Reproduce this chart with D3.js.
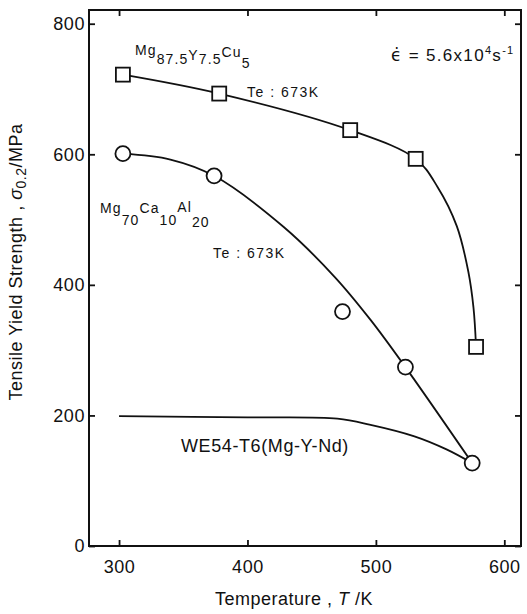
<!DOCTYPE html>
<html lang="en">
<head>
	<meta charset="UTF-8">
	<title>Tensile Yield Strength vs Temperature</title>
	<style>
		html, body {width: 100%; height: 100%; padding: 0; margin: 0; background: #fff;}
		svg {display: block;}
		text {font-family: "Liberation Sans", Arial, sans-serif; fill: #111;}
		.tick-label {font-size: 18px; letter-spacing: 0.6px;}
		.axis-title {font-size: 18px; letter-spacing: 0.5px;}
		.note {font-size: 14px; letter-spacing: 1.5px;}
		.formula {font-size: 14px; letter-spacing: 1.1px;}
		.curve {fill: none; stroke: #111; stroke-width: 1.8px;}
		.marker {fill: #fff; stroke: #111; stroke-width: 1.8px;}
	</style>
	<script src="https://d3js.org/d3.v7.min.js"></script>
</head>
<body>

<script>
// Measured points
var squareT = [303, 378, 480, 531, 578];
var squareS = [722, 693, 637, 593, 305];
var circleT = [303, 374, 474, 523, 575];
var circleS = [601, 567, 359, 274, 127];

// Hand drawn curves
var squareFitT = [303, 378, 480, 531, 548, 563, 572, 576, 578];
var squareFitS = [722, 693, 637, 593, 550, 490, 420, 365, 305];
var circleFitT = [303, 340, 374, 428, 468, 496, 523, 575];
var circleFitS = [601, 592, 567, 489, 412, 346, 274, 127];
var we54T = [300, 400, 470, 495, 530, 555, 575];
var we54S = [199, 197, 195, 186, 168, 148, 127];

var xTicks = [300, 400, 500, 600];
var yTicks = [0, 200, 400, 600, 800];
</script>

<script>
	var width = 527;
	var height = 614;
	var frame = {left: 89, top: 10, right: 521, bottom: 546};

	var x = d3.scaleLinear().domain([276.6, 613]).range([frame.left, frame.right]);
	var y = d3.scaleLinear().domain([0, 821]).range([frame.bottom, frame.top]);

	var svg = d3.select('body').append('svg')
		.attr('width', width)
		.attr('height', height);

	// frame
	svg.append('rect')
		.attr('x', frame.left).attr('y', frame.top)
		.attr('width', frame.right - frame.left)
		.attr('height', frame.bottom - frame.top)
		.attr('fill', 'none').attr('stroke', '#111').attr('stroke-width', 2);

	// inward ticks on all four sides
	var tickStyle = function (sel) {
		sel.call(function (g) { g.select('.domain').remove(); });
		sel.selectAll('.tick line').attr('stroke', '#111').attr('stroke-width', 1.8);
		sel.selectAll('.tick text').attr('class', 'tick-label').attr('fill', '#111');
		sel.attr('font-family', null).attr('font-size', null);
	};
	svg.append('g')
		.attr('transform', 'translate(0,' + frame.bottom + ')')
		.call(d3.axisBottom(x).tickValues(xTicks).tickSize(-6).tickPadding(14))
		.call(tickStyle);
	svg.append('g')
		.attr('transform', 'translate(0,' + frame.top + ')')
		.call(d3.axisTop(x).tickValues(xTicks).tickSize(-6).tickFormat(''))
		.call(tickStyle);
	svg.append('g')
		.attr('transform', 'translate(' + frame.left + ',0)')
		.call(d3.axisLeft(y).tickValues(yTicks).tickSize(-6).tickPadding(4))
		.call(tickStyle);
	svg.append('g')
		.attr('transform', 'translate(' + frame.right + ',0)')
		.call(d3.axisRight(y).tickValues(yTicks).tickSize(-6).tickFormat(''))
		.call(tickStyle);

	// curves
	var line = d3.line()
		.x(function (d) { return x(d[0]); })
		.y(function (d) { return y(d[1]); })
		.curve(d3.curveCatmullRom.alpha(0.5));
	var zip = function (a, b) { return a.map(function (v, i) { return [v, b[i]]; }); };

	svg.append('path').attr('class', 'curve').attr('d', line(zip(squareFitT, squareFitS)));
	svg.append('path').attr('class', 'curve').attr('d', line(zip(circleFitT, circleFitS)));
	svg.append('path').attr('class', 'curve').attr('d', line(zip(we54T, we54S)));

	// markers
	var sq = 14;
	svg.selectAll('.sq')
		.data(zip(squareT, squareS))
		.enter().append('rect')
		.attr('class', 'marker')
		.attr('x', function (d) { return x(d[0]) - sq / 2; })
		.attr('y', function (d) { return y(d[1]) - sq / 2; })
		.attr('width', sq).attr('height', sq);
	svg.selectAll('.circ')
		.data(zip(circleT, circleS))
		.enter().append('circle')
		.attr('class', 'marker')
		.attr('cx', function (d) { return x(d[0]); })
		.attr('cy', function (d) { return y(d[1]); })
		.attr('r', 7.5);

	// alloy names, each piece sits on its own baseline like the scan
	function formula(xp, parts) {
		var t = svg.append('text').attr('class', 'formula').attr('x', xp);
		parts.forEach(function (p) {
			t.append('tspan').attr('y', p[1]).text(p[0]);
		});
		return t;
	}
	formula(135, [['Mg', 55], ['87.5', 64], ['Y', 60], ['7.5', 64], ['Cu', 57], ['5', 68]]);
	formula(100, [['Mg', 213], ['70', 225], ['Ca', 213], ['10', 225], ['Al', 212], ['20', 227]]);

	svg.append('text').attr('class', 'note').attr('x', 247).attr('y', 97).text('Te : 673K');
	svg.append('text').attr('class', 'note').attr('x', 213).attr('y', 258).text('Te : 673K');

	svg.append('text').attr('x', 181).attr('y', 452)
		.attr('font-size', 18).attr('letter-spacing', 0.6)
		.text('WE54-T6(Mg-Y-Nd)');

	// strain rate, epsilon with a dot on top
	var eps = svg.append('text').attr('x', 391).attr('y', 61)
		.attr('font-size', 17).attr('letter-spacing', 1.3);
	eps.append('tspan').attr('font-family', '"DejaVu Sans"').text('\u03F5\u0307');
	eps.append('tspan').text(' = 5.6x10');
	eps.append('tspan').attr('dy', -7).attr('font-size', 11).text('4');
	eps.append('tspan').attr('dy', 7).text('s');
	eps.append('tspan').attr('dy', -7).attr('font-size', 11).text('-1');

	// axis titles
	svg.append('text').attr('class', 'axis-title')
		.attr('x', 294).attr('y', 605)
		.attr('text-anchor', 'middle')
		.html('Temperature , <tspan font-style="italic">T</tspan> /K');

	var yt = svg.append('text').attr('class', 'axis-title')
		.attr('transform', 'translate(22,262) rotate(-90)')
		.attr('text-anchor', 'middle')
		.attr('letter-spacing', 0.9);
	yt.append('tspan').text('Tensile Yield Strength , ');
	yt.append('tspan').attr('font-style', 'italic').text('\u03C3');
	yt.append('tspan').attr('dy', 4).attr('font-size', 14).text('0.2');
	yt.append('tspan').attr('dy', -4).text('/MPa');
</script>

</body>
</html>
